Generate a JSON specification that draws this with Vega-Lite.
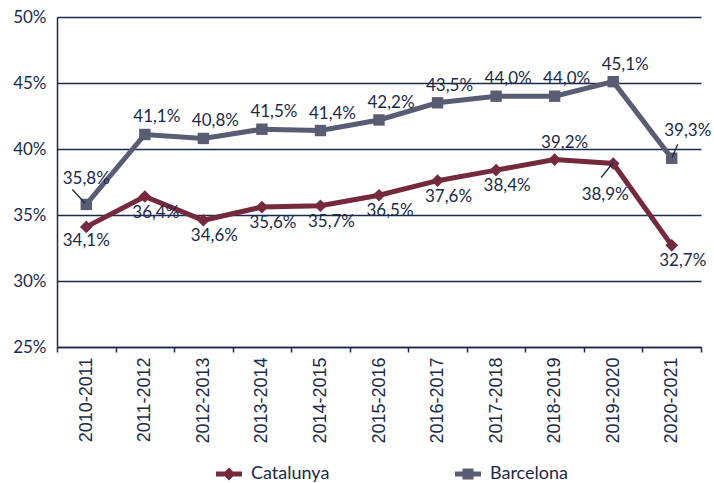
{
  "$schema": "https://vega.github.io/schema/vega-lite/v6.json",
  "width": 644,
  "height": 330,
  "padding": {"left": 12, "top": 8, "right": 5, "bottom": 0},
  "background": "white",
  "config": {
    "locale": {"number": {"decimal": ",", "thousands": ".", "grouping": [3], "currency": ["", " €"]}},
    "view": {"stroke": null},
    "font": "Lato",
    "axis": {"labelColor": "#1b2a49", "domainColor": "#1b2a49", "tickColor": "#1b2a49", "gridColor": "#1b2a49", "title": null},
    "legend": {"orient": "none", "legendX": 162, "legendY": 447, "direction": "horizontal", "symbolSize": 400, "labelFontSize": 18, "labelFont": "Lato", "labelColor": "#1b2a49", "columnPadding": 125, "labelOffset": 12}
  },
  "data": {
    "values": [
      {"year": "2010-2011", "series": "Catalunya", "value": 0.341},
      {"year": "2011-2012", "series": "Catalunya", "value": 0.364},
      {"year": "2012-2013", "series": "Catalunya", "value": 0.346},
      {"year": "2013-2014", "series": "Catalunya", "value": 0.356},
      {"year": "2014-2015", "series": "Catalunya", "value": 0.357},
      {"year": "2015-2016", "series": "Catalunya", "value": 0.365},
      {"year": "2016-2017", "series": "Catalunya", "value": 0.376},
      {"year": "2017-2018", "series": "Catalunya", "value": 0.384},
      {"year": "2018-2019", "series": "Catalunya", "value": 0.392},
      {"year": "2019-2020", "series": "Catalunya", "value": 0.389},
      {"year": "2020-2021", "series": "Catalunya", "value": 0.327},
      {"year": "2010-2011", "series": "Barcelona", "value": 0.358},
      {"year": "2011-2012", "series": "Barcelona", "value": 0.411},
      {"year": "2012-2013", "series": "Barcelona", "value": 0.408},
      {"year": "2013-2014", "series": "Barcelona", "value": 0.415},
      {"year": "2014-2015", "series": "Barcelona", "value": 0.414},
      {"year": "2015-2016", "series": "Barcelona", "value": 0.422},
      {"year": "2016-2017", "series": "Barcelona", "value": 0.435},
      {"year": "2017-2018", "series": "Barcelona", "value": 0.440},
      {"year": "2018-2019", "series": "Barcelona", "value": 0.440},
      {"year": "2019-2020", "series": "Barcelona", "value": 0.451},
      {"year": "2020-2021", "series": "Barcelona", "value": 0.393}
    ]
  },
  "encoding": {
    "x": {"field": "year", "type": "nominal", "sort": null,
      "scale": {"paddingInner": 0, "paddingOuter": 0},
      "axis": {"labelAngle": -90, "labelFont": "Liberation Sans", "labelFontSize": 18, "labelPadding": 5, "tickBand": "extent", "tickSize": 5, "domainWidth": 1.5, "tickWidth": 1.5, "grid": false, "labelBaseline": "middle", "labelAlign": "right"}},
    "y": {"field": "value", "type": "quantitative",
      "scale": {"domain": [0.25, 0.5], "nice": false, "zero": false},
      "axis": {"format": ".0%", "values": [0.25, 0.3, 0.35, 0.4, 0.45, 0.5], "labelFontSize": 17, "labelPadding": 11, "ticks": false, "grid": true, "gridWidth": 1.5, "domainWidth": 1.5}}
  },
  "layer": [
    {
      "mark": {"type": "line", "strokeWidth": 5},
      "encoding": {
        "color": {"field": "series", "type": "nominal",
          "scale": {"domain": ["Catalunya", "Barcelona"], "range": ["#74293c", "#595d73"]},
          "legend": {"title": null,
            "encode": {"symbols": {"update": {
              "shape": {"signal": "datum.value === 'Catalunya' ? 'M-1.3,-0.25H1.3V0.25H-1.3Z M0,-0.65L0.65,0L0,0.65L-0.65,0Z' : 'M-1.3,-0.25H1.3V0.25H-1.3Z M-0.55,-0.55H0.55V0.55H-0.55Z'"},
              "fill": {"scale": "color", "field": "value"},
              "strokeWidth": {"value": 0}
            }}}}}
      }
    },
    {
      "transform": [{"filter": "datum.series === 'Catalunya'"}],
      "mark": {"type": "point", "filled": true, "size": 160, "opacity": 1, "shape": "diamond", "color": "#74293c"}
    },
    {
      "transform": [{"filter": "datum.series === 'Barcelona'"}],
      "mark": {"type": "point", "filled": true, "size": 130, "opacity": 1, "shape": "square", "color": "#595d73"}
    },
    {
      "transform": [{"filter": "(datum.series === 'Barcelona' && (datum.year === '2010-2011' || datum.year === '2020-2021')) || (datum.series === 'Catalunya' && datum.year === '2019-2020')"}],
      "mark": {"type": "point", "filled": false, "size": 400, "stroke": "#1b2a49", "strokeWidth": 1.3, "opacity": 1},
      "encoding": {
        "shape": {"condition": [
          {"test": "datum.year === '2010-2011'", "value": "M-1.4,-1.5L-0.1,-0.1"},
          {"test": "datum.series === 'Catalunya'", "value": "M-1.2,1.4L0,-0.1"}
        ], "value": "M0.6,-1.4L0.05,-0.1"}
      }
    },
    {
      "transform": [{"filter": "datum.series === 'Barcelona' && datum.year !== '2010-2011' && datum.year !== '2020-2021'"}],
      "mark": {"type": "text", "fontSize": 17, "color": "#1b2a49", "dx": 12, "dy": -17},
      "encoding": {"text": {"field": "value", "format": ".1%"}}
    },
    {
      "transform": [{"filter": "datum.series === 'Catalunya' && datum.year !== '2010-2011' && datum.year !== '2018-2019' && datum.year !== '2019-2020'"}],
      "mark": {"type": "text", "fontSize": 17, "color": "#1b2a49", "dx": 11, "dy": 16},
      "encoding": {"text": {"field": "value", "format": ".1%"}}
    },
    {
      "transform": [{"filter": "datum.series === 'Catalunya' && datum.year === '2018-2019'"}],
      "mark": {"type": "text", "fontSize": 17, "color": "#1b2a49", "dx": 10, "dy": -17},
      "encoding": {"text": {"field": "value", "format": ".1%"}}
    },
    {
      "transform": [{"filter": "datum.series === 'Barcelona' && datum.year === '2010-2011'"}],
      "mark": {"type": "text", "fontSize": 17, "color": "#1b2a49", "dx": 0, "dy": -25},
      "encoding": {"text": {"field": "value", "format": ".1%"}}
    },
    {
      "transform": [{"filter": "datum.series === 'Barcelona' && datum.year === '2020-2021'"}],
      "mark": {"type": "text", "fontSize": 17, "color": "#1b2a49", "dx": 16, "dy": -27},
      "encoding": {"text": {"field": "value", "format": ".1%"}}
    },
    {
      "transform": [{"filter": "datum.series === 'Catalunya' && datum.year === '2019-2020'"}],
      "mark": {"type": "text", "fontSize": 17, "color": "#1b2a49", "dx": -8, "dy": 31},
      "encoding": {"text": {"field": "value", "format": ".1%"}}
    },
    {
      "transform": [{"filter": "datum.series === 'Catalunya' && datum.year === '2010-2011'"}],
      "mark": {"type": "text", "fontSize": 17, "color": "#1b2a49", "dx": 0, "dy": 14},
      "encoding": {"text": {"field": "value", "format": ".1%"}}
    }
  ]
}
